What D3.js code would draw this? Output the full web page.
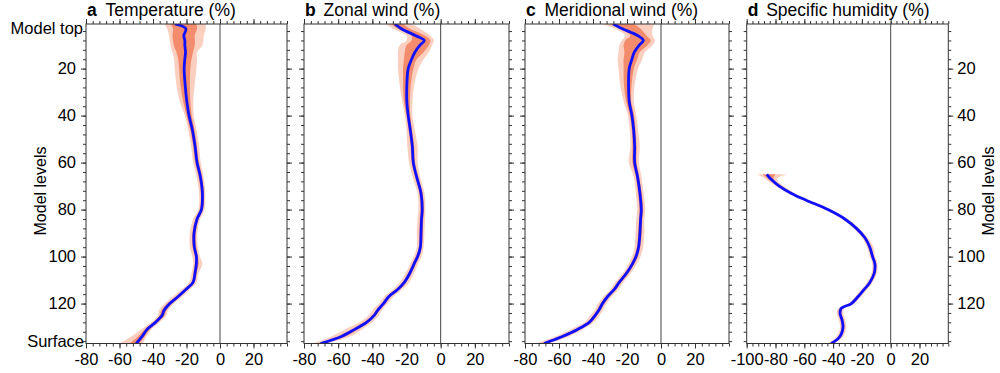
<!DOCTYPE html>
<html>
<head>
<meta charset="utf-8">
<script src="https://cdn.jsdelivr.net/npm/d3@7"></script>
<style>
  body { margin: 0; background: #fff; }
  svg { display: block; }
  text { font-family: "Liberation Sans", Arial, Helvetica, sans-serif; fill: #000; }
</style>
</head>
<body>
<svg width="1000" height="373"></svg>
<script>
// model levels sampled for panels a-c
const levels = [1, 3, 6, 8, 10, 13, 16, 20, 27, 34, 40, 46, 53, 60, 66, 73, 80, 84, 90, 96, 100, 103, 107, 111, 114, 117, 120, 123, 125, 128, 131, 134, 137];

// a: temperature
const tMean    = [-27, -20.4, -21.6, -21, -21, -20.6, -21, -21.4, -20.8, -19.8, -18.5, -16.5, -14.9, -13.7, -11.7, -10.5, -11.1, -13.7, -15.5, -15.3, -14.1, -14.1, -14.9, -16.1, -20.4, -25, -30, -33.5, -34.5, -38.5, -43.5, -46.5, -50];
const tOuterLo = [-33, -31.5, -30.4, -30, -29.6, -28.4, -27.4, -27, -26, -24, -21, -19, -17.3, -16, -14, -12.5, -13, -16, -18, -18, -16.5, -16, -17, -18.5, -23, -28, -33, -36.5, -37, -41, -47, -53, -60];
const tOuterHi = [-8.5, -8.5, -9.7, -10, -10.5, -13.7, -13.7, -14.1, -15.1, -16, -15.7, -14, -12.5, -11.5, -9.8, -8.8, -9.3, -11.8, -13.5, -13.2, -12, -10.5, -12.8, -14, -18, -22.5, -27.5, -31, -32, -36, -41, -44, -46];
const tInnerLo = [-29.6, -28, -28.4, -28, -27.6, -26, -25, -24.4, -23.6, -22, -20, -17.8, -16, -14.8, -12.8, -11.5, -12, -14.6, -16.5, -16.4, -15, -15, -15.8, -17, -21.5, -26.2, -31.5, -35, -36, -39.8, -45, -49, -54];
const tInnerHi = [-14, -13.7, -15.1, -15, -15.1, -16.1, -17, -17.7, -18, -17.7, -16.9, -15.2, -13.8, -12.6, -10.8, -9.6, -10.2, -12.8, -14.5, -14.2, -13.2, -12.8, -14, -15.2, -19.3, -23.8, -28.6, -32, -33, -37.2, -42, -45, -48];

// b: zonal wind
const uMean    = [-26.8, -23, -14.5, -9.6, -12.1, -15.1, -17, -19, -19.8, -19.8, -19, -17.8, -16.6, -16, -14.1, -11.5, -10.8, -11.2, -11.5, -11.9, -13.5, -15.5, -18, -21.3, -25.2, -30.3, -33.5, -37, -38.9, -43.4, -50.3, -58.1, -70.3];
const uOuterLo = [-32, -28, -20, -20, -24, -25, -25, -25, -24, -22.5, -21, -20, -19.5, -18.5, -16.5, -13.5, -13, -13.5, -14, -14, -15.8, -17.8, -20.5, -24, -28, -33, -36, -40, -42, -47.5, -56, -64, -75];
const uOuterHi = [-17, -12, -6, -4, -5, -7, -10, -13, -15.5, -16.5, -16.5, -15.2, -13.5, -13.5, -12, -9.5, -9, -9.2, -9.5, -10, -11.2, -13.2, -15.5, -18.5, -22.5, -27.5, -31, -34.5, -36, -40, -46, -53, -67];
const uInnerLo = [-29, -25, -17, -17, -20, -21, -21.5, -22, -22, -21.5, -20, -18.8, -17.6, -17, -15, -12.4, -11.8, -12.2, -12.5, -12.8, -14.5, -16.5, -19, -22.3, -26.2, -31.3, -34.5, -38, -40, -45, -52, -60, -72];
const uInnerHi = [-22, -18, -9, -6, -7, -10, -14, -16, -17.5, -18, -17.8, -16.8, -15.5, -15, -13.2, -10.6, -9.8, -10.2, -10.5, -11, -12.5, -14.5, -17, -20.3, -24.2, -29.3, -32.5, -36, -37.8, -42, -48.5, -56, -69];

// c: meridional wind
const vMean    = [-28.1, -22.8, -13.5, -10.4, -12.8, -15.7, -17.1, -18.7, -19.1, -18.7, -17.1, -16.1, -15.5, -15.5, -13.8, -12.4, -11.6, -12, -12.4, -13.2, -14.7, -16.7, -20.2, -24.6, -27.5, -31.4, -34.4, -36.7, -38.7, -42.2, -49.1, -58, -68.8];
const vOuterLo = [-35, -27, -21, -23, -24.5, -25, -25.5, -25, -24, -22, -19.5, -18.5, -18, -19, -16, -14.8, -14, -14.5, -15, -15.5, -17, -19, -22.5, -27, -29.8, -33.8, -37, -39.2, -41.5, -45, -53, -62, -74];
const vOuterHi = [-4, -5, -5, -3.5, -5, -9.5, -11, -13.5, -15.5, -16, -14.5, -13.5, -12.5, -13, -11.5, -10.2, -9.3, -9.8, -9.8, -10.5, -12, -14.2, -17.8, -22.2, -25, -29, -32, -34.3, -36, -39.5, -46, -54, -66];
const vInnerLo = [-30.5, -24, -18, -21, -22, -21.5, -22, -22, -21.8, -20.5, -18.3, -17.2, -16.8, -16.8, -14.8, -13.5, -12.7, -13, -13.5, -14.2, -15.8, -17.8, -21.3, -25.7, -28.6, -32.5, -35.5, -37.8, -39.8, -43.3, -50.5, -59.5, -70.5];
const vInnerHi = [-16, -12, -8.5, -6, -8, -12.5, -14, -16, -17.3, -17.5, -15.8, -15, -14.4, -14.4, -12.8, -11.4, -10.5, -11, -11.3, -12.2, -13.6, -15.6, -19, -23.5, -26.4, -30.3, -33.3, -35.6, -37.6, -41, -47.8, -56.5, -67.5];

// d: specific humidity (only below level 65)
const qLevels  = [65, 67, 70, 73, 76, 80, 84, 88, 92, 96, 100, 103, 107, 111, 114, 117, 120, 122, 124, 127, 130, 133, 135, 137];
const qMean    = [-86, -83.2, -77.4, -69.2, -58.7, -43.6, -31.9, -23.8, -17.9, -14.5, -12.6, -11, -11.4, -14.5, -18.4, -22.6, -27.3, -34.3, -35.2, -33.8, -33.1, -34.3, -36.6, -41.3];
const qOuterLo = [-92.5, -87, -80, -71.5, -61, -46, -34, -25.8, -19.8, -16.5, -14.5, -12.8, -13.2, -16.4, -20.4, -24.6, -29.4, -36.4, -37.4, -36, -35.2, -36.6, -39, -44];
const qOuterHi = [-72, -79, -74.5, -66.8, -56.4, -41.2, -29.8, -21.8, -16, -12, -10.8, -9.2, -9.6, -12.6, -16.4, -20.5, -25.2, -32.2, -33, -31.5, -30.8, -32, -34.5, -39];
const qInnerLo = [-89, -85, -78.5, -70.2, -59.7, -44.6, -32.9, -24.7, -18.8, -15.4, -13.5, -11.9, -12.3, -15.4, -19.3, -23.5, -28.2, -35.2, -36.2, -34.8, -34, -35.3, -37.6, -42.4];
const qInnerHi = [-80, -81.5, -76.2, -68.2, -57.7, -42.6, -30.9, -22.9, -17, -13.6, -11.7, -10.1, -10.5, -13.6, -17.5, -21.7, -26.4, -33.4, -34.2, -32.8, -32.2, -33.3, -35.6, -40.2];

const titles = ["Temperature (%)", "Zonal wind (%)", "Meridional wind (%)", "Specific humidity (%)"];
const letters = ["a", "b", "c", "d"];
const xMins = [-80, -80, -80, -100];
const xMax = 40;
const yMajor = [20, 40, 60, 80, 100, 120];

const svg = d3.select("svg");
const FONT = '"Liberation Sans", Arial, Helvetica, sans-serif';
const TICK_FS = 16.5;
const yTop = 24, yBottom = 343.5;

const yScale = d3.scaleLinear().domain([1, 137]).range([yTop, yBottom]);

const panels = [
  { lv: levels,  mean: tMean, oLo: tOuterLo, oHi: tOuterHi, iLo: tInnerLo, iHi: tInnerHi, left: 86,    width: 201 },
  { lv: levels,  mean: uMean, oLo: uOuterLo, oHi: uOuterHi, iLo: uInnerLo, iHi: uInnerHi, left: 304,   width: 205 },
  { lv: levels,  mean: vMean, oLo: vOuterLo, oHi: vOuterHi, iLo: vInnerLo, iHi: vInnerHi, left: 525,   width: 204 },
  { lv: qLevels, mean: qMean, oLo: qOuterLo, oHi: qOuterHi, iLo: qInnerLo, iHi: qInnerHi, left: 746.7, width: 201.6 }
];

const curve = d3.curveCatmullRom.alpha(0.5);
const plain = d => String(d); // hyphen minus, like the original

panels.forEach((p, i) => {
  const x = d3.scaleLinear().domain([xMins[i], xMax]).range([p.left, p.left + p.width]);
  const rows = p.lv.map((l, k) => ({ l: l, m: p.mean[k], oLo: p.oLo[k], oHi: p.oHi[k], iLo: p.iLo[k], iHi: p.iHi[k] }));

  svg.append("clipPath").attr("id", "clip" + i)
    .append("rect")
    .attr("x", p.left).attr("y", yTop)
    .attr("width", p.width).attr("height", yBottom - yTop);

  const g = svg.append("g").attr("clip-path", "url(#clip" + i + ")");

  g.append("path").datum(rows)
    .attr("fill", "#fbcfbf")
    .attr("d", d3.area().curve(curve).y(d => yScale(d.l)).x0(d => x(d.oLo)).x1(d => x(d.oHi)));

  g.append("path").datum(rows)
    .attr("fill", "#f28c6c")
    .attr("d", d3.area().curve(curve).y(d => yScale(d.l)).x0(d => x(d.iLo)).x1(d => x(d.iHi)));

  // zero line
  g.append("line")
    .attr("x1", x(0)).attr("x2", x(0))
    .attr("y1", yTop).attr("y2", yBottom)
    .attr("stroke", "#444").attr("stroke-width", 1);

  g.append("path").datum(rows)
    .attr("fill", "none")
    .attr("stroke", "#1010ff")
    .attr("stroke-width", 2.8)
    .attr("stroke-linejoin", "round")
    .attr("d", d3.line().curve(curve).y(d => yScale(d.l)).x(d => x(d.m)));

  // axes: minor every 4, major every 20, all ticks outward
  const xMinor = d3.range(xMins[i], xMax + 1, 4);
  const xMajorT = d3.range(xMins[i], 21, 20);
  const yMinor = d3.range(4, 137, 4);

  const addAxis = (axis, transform, labels) => {
    const a = svg.append("g").attr("transform", transform).call(axis);
    a.select(".domain").remove();
    a.selectAll("line").attr("stroke", "#333");
    a.selectAll("text")
      .attr("font-family", FONT)
      .attr("font-size", TICK_FS)
      .attr("fill", "#000");
    if (!labels) a.selectAll("text").remove();
    return a;
  };

  addAxis(d3.axisBottom(x).tickValues(xMinor).tickSize(3).tickFormat(""), `translate(0,${yBottom})`, false);
  addAxis(d3.axisBottom(x).tickValues(xMajorT).tickSize(5).tickPadding(5).tickFormat(plain), `translate(0,${yBottom})`, true);
  addAxis(d3.axisTop(x).tickValues(xMinor).tickSize(3).tickFormat(""), `translate(0,${yTop})`, false);
  addAxis(d3.axisTop(x).tickValues(xMajorT).tickSize(5).tickFormat(""), `translate(0,${yTop})`, false);

  addAxis(d3.axisLeft(yScale).tickValues(yMinor).tickSize(3).tickFormat(""), `translate(${p.left},0)`, false);
  addAxis(d3.axisLeft(yScale).tickValues(yMajor).tickSize(5).tickPadding(5).tickFormat(plain), `translate(${p.left},0)`, i === 0);
  addAxis(d3.axisRight(yScale).tickValues(yMinor).tickSize(3).tickFormat(""), `translate(${p.left + p.width},0)`, false);
  addAxis(d3.axisRight(yScale).tickValues(yMajor).tickSize(5).tickPadding(4).tickFormat(plain), `translate(${p.left + p.width},0)`, i === 3);

  // frame
  svg.append("rect")
    .attr("x", p.left).attr("y", yTop)
    .attr("width", p.width).attr("height", yBottom - yTop)
    .attr("fill", "none").attr("stroke", "#333").attr("stroke-width", 1);

  // title
  const t = svg.append("text")
    .attr("x", p.left + 1).attr("y", 16)
    .attr("font-size", 17.5);
  t.append("tspan").attr("font-weight", "bold").text(letters[i]);
  t.append("tspan").attr("x", p.left + 19.5).text(titles[i]);
});

// end labels on panel a
svg.append("text").attr("x", 83).attr("y", yScale(3)).attr("dy", "0.35em")
  .attr("text-anchor", "end").attr("font-size", TICK_FS).text("Model top");
svg.append("text").attr("x", 84).attr("y", yScale(136)).attr("dy", "0.35em")
  .attr("text-anchor", "end").attr("font-size", TICK_FS).text("Surface");

svg.append("text")
  .attr("transform", "translate(46,191) rotate(-90)")
  .attr("text-anchor", "middle").attr("font-size", 16).text("Model levels");
svg.append("text")
  .attr("transform", "translate(994,191) rotate(-90)")
  .attr("text-anchor", "middle").attr("font-size", 16).text("Model levels");
</script>
</body>
</html>
